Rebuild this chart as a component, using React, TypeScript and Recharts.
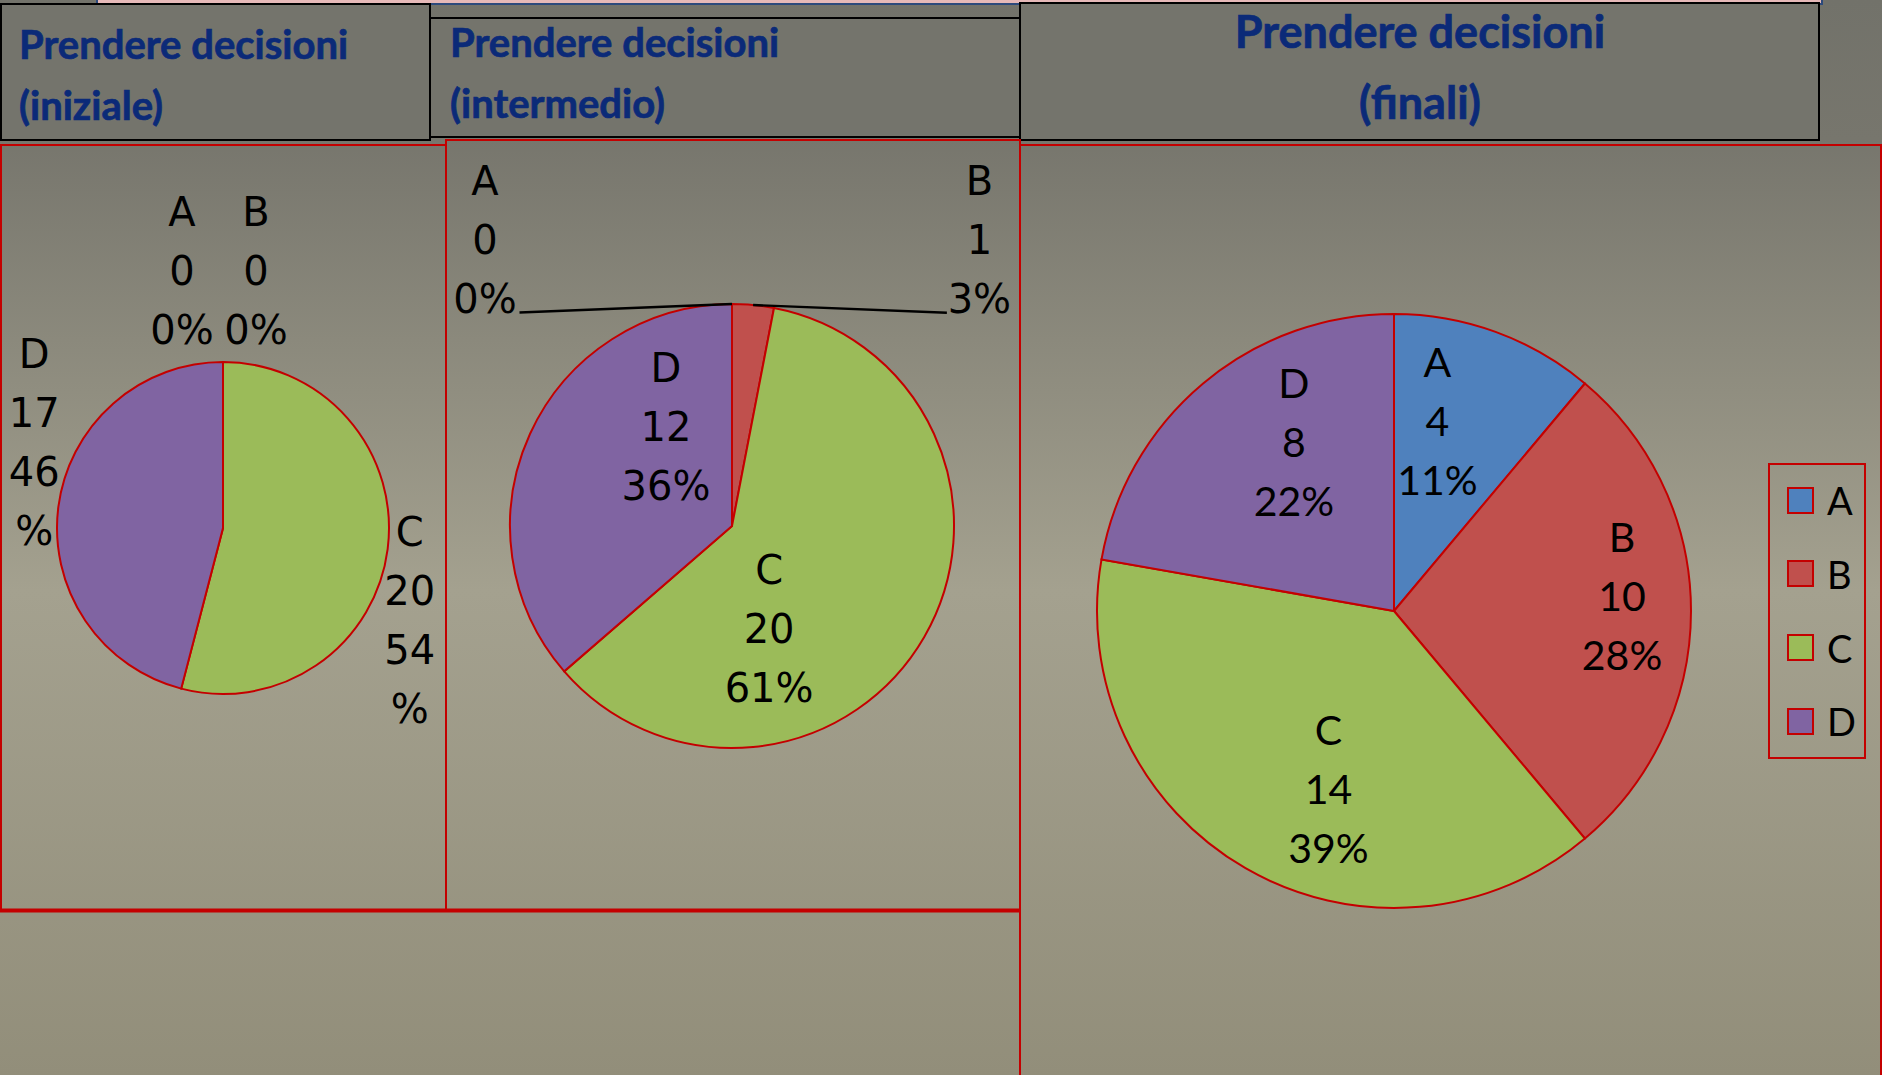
import React from 'react';
import { PieChart, Pie, Cell, Legend } from 'recharts';

// ---------- data ----------
const categories = ['A', 'B', 'C', 'D'];
const valuesIniziale = [0, 0, 20, 17];
const valuesIntermedio = [0, 1, 20, 12];
const valuesFinali = [4, 10, 14, 8];
const sliceColors = ['#4F81BD', '#C0504D', '#9BBB59', '#8064A2'];
const titleLine1 = 'Prendere decisioni';
const titleLine2 = ['(iniziale)', '(intermedio)', '(finali)'];

// ---------- helpers ----------
const RAD = Math.PI / 180;
const polar = (cx: number, cy: number, r: number, a: number) => ({
  x: cx + r * Math.cos(-a * RAD),
  y: cy + r * Math.sin(-a * RAD),
});
const toData = (vals: number[]) => categories.map((name, i) => ({ name, value: vals[i] }));

const RED = '#C40000';
const NAVY = '#0B2A78';
const DEJAVU = '"DejaVu Sans", Verdana, sans-serif';
const LATO = 'Lato, "Open Sans", sans-serif';

type LabelLayout = {
  rf: number[];
  nudge: number[][];
  split: boolean[];
  leader: (number[] | null)[];
  font: string;
  size: number;
  lineH: number;
};

const layoutIniziale: LabelLayout = {
  rf: [1.25, 1.25, 1.25, 1.25],
  nudge: [[-41, -49.5], [33, -49.5], [-19, 66], [17, -60]],
  split: [false, false, true, true],
  leader: [null, null, null, null],
  font: DEJAVU,
  size: 40,
  lineH: 59,
};
const layoutIntermedio: LabelLayout = {
  rf: [1.25, 1.25, 0.5, 0.5],
  nudge: [[-247, -9], [221, -10], [-59, 47.5], [35, -53]],
  split: [false, false, false, false],
  leader: [[34.5, 73], [-32.5, 73], null, null],
  font: DEJAVU,
  size: 40,
  lineH: 59,
};
const layoutFinali: LabelLayout = {
  rf: [0.65, 0.65, 0.65, 0.65],
  nudge: [[-22.6, -8.8], [35, -14.5], [31, 11], [24, -20.5]],
  split: [false, false, false, false],
  leader: [null, null, null, null],
  font: LATO,
  size: 41,
  lineH: 59,
};

const makeLabel = (lay: LabelLayout) => (props: any) => {
  const { cx, cy, midAngle, outerRadius, percent, value, name, index } = props;
  const base = polar(cx, cy, outerRadius * lay.rf[index], midAngle);
  const px = base.x + lay.nudge[index][0];
  const py = base.y + lay.nudge[index][1];
  const pct = Math.round((percent || 0) * 100);
  const lines = lay.split[index]
    ? [String(name), String(value), String(pct), '%']
    : [String(name), String(value), `${pct}%`];
  const first = py - ((lines.length - 1) / 2) * lay.lineH;
  const lead = lay.leader[index];
  let leaderEl = null;
  if (lead) {
    const s = polar(cx, cy, outerRadius, midAngle);
    leaderEl = (
      <line x1={s.x} y1={s.y} x2={px + lead[0]} y2={py + lead[1]} stroke="#000" strokeWidth={2.4} />
    );
  }
  return (
    <g key={`lbl-${index}`}>
      {leaderEl}
      {lines.map((t, i) => (
        <text
          key={i}
          x={px}
          y={first + i * lay.lineH + lay.size * 0.36}
          textAnchor="middle"
          fill="#000"
          stroke="none"
          style={{ fontFamily: lay.font, fontSize: lay.size }}
        >
          {t}
        </text>
      ))}
    </g>
  );
};

const renderLegend = (props: any) => {
  const payload = props.payload || [];
  return (
    <div
      style={{
        position: 'relative',
        width: 98,
        height: 296,
        boxSizing: 'border-box',
        border: `2px solid ${RED}`,
      }}
    >
      {payload.map((entry: any, i: number) => (
        <div
          key={i}
          style={{
            position: 'absolute',
            left: 17,
            top: 35 + i * 73.8 - 19,
            height: 38,
            display: 'flex',
            alignItems: 'center',
          }}
        >
          <div
            style={{
              width: 27,
              height: 27,
              boxSizing: 'border-box',
              background: entry.color || (entry.payload && entry.payload.fill),
              border: `2px solid ${RED}`,
            }}
          />
          <span
            style={{
              marginLeft: 13,
              fontFamily: LATO,
              fontSize: 38,
              color: '#000',
              lineHeight: '38px',
            }}
          >
            {entry.value}
          </span>
        </div>
      ))}
    </div>
  );
};

type PanelProps = {
  values: number[];
  lay: LabelLayout;
  left: number;
  top: number;
  w: number;
  h: number;
  cx: number;
  cy: number;
  r: number;
  legend?: boolean;
};

const Panel = ({ values, lay, left, top, w, h, cx, cy, r, legend }: PanelProps) => (
  <div style={{ position: 'absolute', left, top, width: w, height: h }}>
    <PieChart width={w} height={h} margin={{ top: 0, right: 0, bottom: 0, left: 0 }}>
      <Pie
        data={toData(values)}
        dataKey="value"
        nameKey="name"
        cx={cx}
        cy={cy}
        outerRadius={r}
        startAngle={90}
        endAngle={-270}
        stroke={RED}
        strokeWidth={2}
        isAnimationActive={false}
        label={makeLabel(lay)}
        labelLine={false}
      >
        {values.map((_, i) => (
          <Cell key={i} fill={sliceColors[i]} stroke={RED} strokeWidth={2} />
        ))}
      </Pie>
      {legend ? (
        <Legend
          layout="vertical"
          align="right"
          verticalAlign="middle"
          content={renderLegend}
          wrapperStyle={{ left: 748, top: 318, width: 98, height: 296 }}
        />
      ) : null}
    </PieChart>
  </div>
);

export default function App() {
  return (
    <div
      style={{
        position: 'absolute',
        left: 0,
        top: 0,
        width: 1882,
        height: 1075,
        overflow: 'hidden',
      }}
    >
      <svg width={1882} height={1075} style={{ position: 'absolute', left: 0, top: 0 }}>
        <defs>
          <linearGradient id="bg" x1="0" y1="0" x2="0" y2="1">
            <stop offset="0" stopColor="#72726a" />
            <stop offset="0.13" stopColor="#77766d" />
            <stop offset="0.55" stopColor="#a4a18f" />
            <stop offset="1" stopColor="#928e7a" />
          </linearGradient>
        </defs>
        <rect x={0} y={0} width={1882} height={1075} fill="url(#bg)" />
        {/* top strip */}
        <rect x={97} y={-3} width={1725} height={7} fill="#e6b9b8" stroke="#2d4a7c" strokeWidth={2} />
        {/* title boxes */}
        <rect x={1} y={4} width={429} height={136} fill="#74746c" stroke="#000" strokeWidth={2} />
        <rect x={430} y={18} width={590} height={119} fill="#74746c" stroke="#000" strokeWidth={2} />
        <rect x={1020} y={3} width={799} height={137} fill="#74746c" stroke="#000" strokeWidth={2} />
        {/* titles */}
        <g fill={NAVY} stroke={NAVY} strokeWidth={0.7} style={{ fontFamily: LATO, fontWeight: 700 }}>
          <text x={19} y={59} style={{ fontSize: 40 }}>{titleLine1}</text>
          <text x={19} y={120} style={{ fontSize: 40 }}>{titleLine2[0]}</text>
          <text x={450} y={57} style={{ fontSize: 40 }}>{titleLine1}</text>
          <text x={450} y={118} style={{ fontSize: 40 }}>{titleLine2[1]}</text>
          <text x={1420} y={48} textAnchor="middle" style={{ fontSize: 45 }}>{titleLine1}</text>
          <text x={1420} y={119} textAnchor="middle" style={{ fontSize: 45 }}>{titleLine2[2]}</text>
        </g>
        {/* panel borders */}
        <rect x={1} y={145} width={445} height={765} fill="none" stroke={RED} strokeWidth={2} />
        <rect x={446} y={140} width={574} height={770} fill="none" stroke={RED} strokeWidth={2} />
        <rect x={1020} y={145} width={861} height={960} fill="none" stroke={RED} strokeWidth={2} />
        <line x1={0} y1={910.5} x2={1020} y2={910.5} stroke={RED} strokeWidth={4} />
      </svg>

      <Panel values={valuesIniziale} lay={layoutIniziale} left={0} top={145} w={445} h={765} cx={223} cy={383} r={166} />
      <Panel values={valuesIntermedio} lay={layoutIntermedio} left={446} top={140} w={574} h={770} cx={286} cy={386} r={222} />
      <Panel values={valuesFinali} lay={layoutFinali} left={1020} top={145} w={862} h={930} cx={374} cy={466} r={297} legend />
    </div>
  );
}
